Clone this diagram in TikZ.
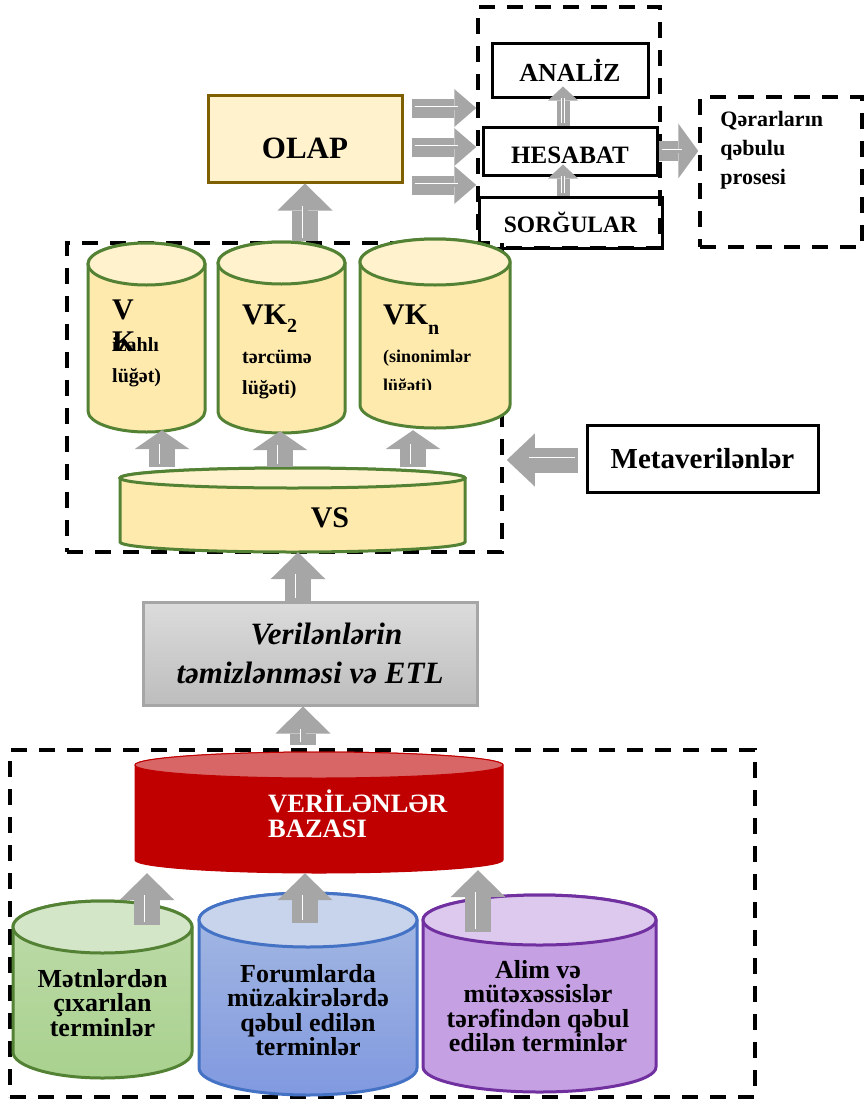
\documentclass[tikz,border=0pt]{standalone}
\usepackage{fontspec}
\setmainfont{Liberation Serif}
\usetikzlibrary{positioning, calc, arrows.meta}

\definecolor{arrgray}{HTML}{A6A6A6}
\definecolor{olapfill}{HTML}{FFF2CC}
\definecolor{olapline}{HTML}{7F6000}
\definecolor{vkbody}{HTML}{FFEAAE}
\definecolor{vktop}{HTML}{FFF2CC}
\definecolor{vkline}{HTML}{548235}
\definecolor{etltop}{HTML}{DCDCDC}
\definecolor{etlbot}{HTML}{BDBDBD}
\definecolor{etlline}{HTML}{A6A6A6}
\definecolor{dbbody}{HTML}{C00000}
\definecolor{dbtop}{HTML}{D96666}
\definecolor{grtop}{HTML}{D4E6C8}
\definecolor{grbody}{HTML}{A9D18E}
\definecolor{grline}{HTML}{548235}
\definecolor{bltop}{HTML}{C8D3EC}
\definecolor{blbody}{HTML}{8FAADC}
\definecolor{blline}{HTML}{4472C4}
\definecolor{putop}{HTML}{DDC8EE}
\definecolor{pubody}{HTML}{C5A0E2}
\definecolor{puline}{HTML}{7030A0}

\newcommand{\fsz}[2]{\fontsize{#1}{#2}\selectfont}

% name, x, y, width, height, end radius, side style, end style
\newcommand{\drum}[8]{%
  \path[#7] ({#2-#4/2},{#3+#5/2-#6}) -- ({#2-#4/2},{#3-#5/2+#6})
    arc[start angle=180, end angle=360, x radius={#4/2*1pt}, y radius={#6*1pt}]
    -- ({#2+#4/2},{#3+#5/2-#6})
    arc[start angle=0, end angle=180, x radius={#4/2*1pt}, y radius={#6*1pt}] -- cycle;
  \path[#8] (#2,{#3+#5/2-#6}) ellipse[x radius={#4/2*1pt}, y radius={#6*1pt}];
  \node[inner sep=0pt, minimum width={#4*1pt}, minimum height={#5*1pt}] (#1) at (#2,#3) {};
}

\begin{document}
\begin{tikzpicture}[x=1pt, y=1pt,
		dashbox/.style={draw, line width=3.5pt, dash pattern=on 16pt off 12pt},
		blackbox/.style={draw, line width=3pt, inner sep=0pt},
		vkside/.style={fill=vkbody, draw=vkline, line width=3pt},
		vkend/.style={fill=vktop, draw=vkline, line width=3pt},
		dbside/.style={fill=dbbody, draw=dbbody, line width=1pt},
		dbend/.style={fill=dbtop, draw=dbbody, line width=1pt},
		greenside/.style={top color=grtop!50!grbody, bottom color=grbody, draw=grline, line width=3pt},
		greenend/.style={fill=grtop, draw=grline, line width=3pt},
		blueside/.style={top color=bltop!40!blbody, bottom color=blbody!90!blue, draw=blline, line width=3pt},
		blueend/.style={fill=bltop, draw=blline, line width=3pt},
		purpside/.style={fill=pubody, draw=puline, line width=3pt},
		purpend/.style={fill=putop, draw=puline, line width=3pt},
		vktext/.style={align=left, inner sep=0pt, font=\fsz{20}{31.5}\bfseries},
		termtext/.style={anchor=north, align=center, inner sep=0pt, font=\fsz{26}{24.5}\bfseries},
		inner/.style 2 args={postaction={draw=white, line width=0.9pt, double=arrgray,
				double distance=#1, arrows=-, shorten <=3pt, shorten >=#2}},
		bigarr/.style={draw=arrgray, line width=26pt,
			-{Triangle[width=55pt, length=27pt, line width=0pt]}, inner={5pt}{22pt}},
		vkarr/.style={draw=arrgray, line width=26pt,
			-{Triangle[width=55pt, length=19pt, line width=0pt]}, inner={5pt}{14pt}},
		harr/.style={draw=arrgray, line width=19pt,
			-{Triangle[width=38pt, length=22pt, line width=0pt]}, inner={3pt}{18pt}},
		decarr/.style={draw=arrgray, line width=20pt,
			-{Triangle[width=55pt, length=20pt, line width=0pt]}, inner={3pt}{16pt}},
		smallarr/.style={draw=arrgray, line width=13pt,
			-{Triangle[width=30pt, length=14pt, line width=0pt]}, inner={2pt}{11pt}},
		metaarr/.style={draw=arrgray, line width=25pt,
			-{Triangle[width=53pt, length=28pt, line width=0pt]}, inner={5pt}{22pt}}
		]
		
		\useasboundingbox (0,0) rectangle (867,-1100);
		
		%frames
		\node[dashbox, minimum width=182pt, minimum height=241pt] (tools) at (569,-127.5) {};
		\node[dashbox, minimum width=162pt, minimum height=150pt] (dec) at (781,-172) {};
		\node[dashbox, minimum width=435pt, minimum height=309pt] (mid) at (284.5,-397.5) {};
		\node[dashbox, minimum width=745pt, minimum height=347pt] (low) at (382.5,-923.5) {};
		
		%tools
		\node[blackbox, minimum width=156pt, minimum height=54pt, font=\fsz{26}{30}\bfseries] (ana) at (570,-70) {ANALİZ};
		\node[blackbox, minimum width=174pt, minimum height=48pt, text height=26pt, font=\fsz{25}{30}\bfseries] (hes) at (570,-151) {HESABAT};
		\node[blackbox, minimum width=183pt, minimum height=51pt, font=\fsz{23.5}{28}\bfseries] (sorg) at (570.5,-222.5) {SORĞULAR};
		\node[anchor=north west, align=left, inner sep=0pt, font=\fsz{22}{29}\bfseries] (dectxt) at ($(dec.north west)+(22,-16)$) {Qərarların\\qəbulu\\prosesi};
		
		%olap
		\node[draw=olapline, fill=olapfill, line width=3pt, minimum width=194pt, minimum height=87pt, text height=41pt, font=\fsz{31}{36}\bfseries] (olap) at (305,-138.5) {OLAP};
		
		%data marts
		\drum{vk1}{146.5}{-337.5}{117}{189}{21}{vkside}{vkend}
		\drum{vk2}{281.5}{-337.5}{127}{191}{21}{vkside}{vkend}
		\drum{vkn}{435}{-333.5}{150}{189}{23}{vkside}{vkend}
		\drum{vs}{292.5}{-510}{345}{84}{10}{vkside}{vkend}
		
		\node[vktext, anchor=north west] (vk1txt) at (112,-300) {{\fsz{30}{31.5}V}\\\rlap{\fsz{30}{31.5}K}izahlı\\lüğət)};
		\node[vktext, anchor=north west] (vk2txt) at (242,-305) {{\fsz{30}{31.5}VK\raisebox{-8pt}{\fsz{20}{20}2}}\\[7pt]tərcümə\\lüğəti)};
		\begin{scope}
			\clip (355,-230) rectangle (515,-389);
			\node[vktext, font=\fsz{18}{29}\bfseries, anchor=north west] (vkntxt) at (383,-305) {{\fsz{30}{29}VK\raisebox{-10pt}{\fsz{20}{20}n}}\\[9pt](sinonimlər\\lüğəti)};
		\end{scope}
		\node[font=\fsz{30}{32}\bfseries, anchor=base] (vstxt) at (330,-527) {VS};
		
		%metadata
		\node[blackbox, minimum width=231pt, minimum height=67pt, font=\fsz{29}{32}\bfseries] (meta) at (702.5,-458.5) {Metaverilənlər};
		
		%etl
		\node[draw=etlline, line width=3pt, top color=etltop, bottom color=etlbot, minimum width=334pt, minimum height=103pt, align=center, font=\fsz{31}{39}\bfseries\itshape] (etl) at (310,-653.5) {\hspace*{33pt}Verilənlərin\\təmizlənməsi və ETL};
		
		%database
		\drum{db}{319}{-812.5}{368}{121}{13}{dbside}{dbend}
		\node[anchor=north west, align=left, inner sep=0pt, text=white, font=\fsz{26.5}{25}\bfseries] (dbtxt) at (268,-790) {VERİLƏNLƏR\\BAZASI};
		
		%sources
		\drum{green}{102.5}{-989.5}{179}{177}{26}{greenside}{greenend}
		\drum{blue}{308}{-994}{218}{202}{27}{blueside}{blueend}
		\drum{purple}{539.5}{-993.5}{233}{197}{25}{purpside}{purpend}
		\node[termtext] (greentxt) at (102.5,-969) {Mətnlərdən\\çıxarılan\\terminlər};
		\node[termtext] (bluetxt) at (308,-964) {Forumlarda\\müzakirələrdə\\qəbul edilən\\terminlər};
		\node[termtext] (purptxt) at (538,-960) {Alim və\\mütəxəssislər\\tərəfindən qəbul\\edilən terminlər};
		
		%arrows up
		\draw[bigarr] ($(green.north)+(44.5,-24)$) -- ($(db.south)+(-172,0)$);
		\draw[bigarr] ($(blue.north)+(-3,-30)$) -- ($(db.south)+(-14,0)$);
		\draw[bigarr] ($(purple.north)+(-61.5,-37)$) -- ($(db.south)+(159,3)$);
		\draw[bigarr] ($(db.north)+(-16,7)$) -- ($(etl.south)+(-7,0)$);
		\draw[bigarr] ($(etl.north)+(-12,0)$) -- ($(vs.south)+(5.5,0)$);
		\draw[vkarr] ($(vs.north)+(-130.5,1)$) -- ($(vk1.south)+(15.5,2)$);
		\draw[vkarr] ($(vs.north)+(-12.5,1)$) -- ($(vk2.south)+(-1.5,2)$);
		\draw[vkarr] ($(vs.north)+(120.5,1)$) -- ($(vkn.south)+(-22,-2)$);
		\draw[bigarr] (olap.south |- mid.north) -- (olap.south);
		
		%olap to tools
		\draw[harr] ($(olap.east)+(8,30.5)$) -- ($(tools.west)+(0,19.5)$);
		\draw[harr] ($(olap.east)+(8,-8.5)$) -- ($(tools.west)+(0,-19.5)$);
		\draw[harr] ($(olap.east)+(8,-46.5)$) -- ($(tools.west)+(0,-57.5)$);
		
		%inside tools
		\draw[smallarr] ($(sorg.north)+(-7.5,0)$) -- ($(hes.south)+(-7,12)$);
		\draw[smallarr] ($(hes.north)+(-7,0)$) -- ($(ana.south)+(-7,12)$);
		
		% decision / metadata
		\draw[decarr] (hes.east) -- (dec.west |- hes.east);
		\draw[metaarr] ($(meta.west)+(-8,-1.5)$) -- ($(mid.east)+(3,-62.5)$);
	\end{tikzpicture}
\end{document}
